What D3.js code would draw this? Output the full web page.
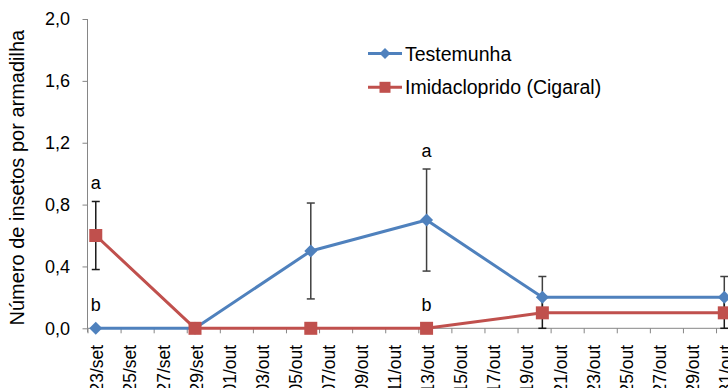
<!DOCTYPE html>
<html><head><meta charset="utf-8">
<script src="https://cdn.jsdelivr.net/npm/d3@7"></script>
<style>
html,body{margin:0;padding:0;background:#fff;}
svg{display:block;font-family:"Liberation Sans",Arial,sans-serif;}
</style></head>
<body><svg id="chart" width="728" height="388"></svg>
<script>
// ---- data ----
const sampleDates = ["23/set","29/set","06/out","13/out","20/out","31/out"];
const testemunha = [0, 0, 0.5, 0.7, 0.2, 0.2];
const testemunhaErr = [0, 0, 0.31, 0.33, 0.135, 0.135];
const imidacloprido = [0.6, 0, 0, 0, 0.1, 0.1];
const imidaclopridoErr = [0.22, 0, 0, 0, 0.1, 0.1];
const xTickLabels = ["23/set","25/set","27/set","29/set","01/out","03/out","05/out","07/out","09/out","11/out",
  "13/out","15/out","17/out","19/out","21/out","23/out","25/out","27/out","29/out","31/out"];
const yTicks = [0, 0.4, 0.8, 1.2, 1.6, 2.0];
const letterDates = ["23/set","23/set","13/out","13/out"];
const letterSeries = ["imid","test","test","imid"];
const letterText = ["a","b","a","b"];
const seriesNames = ["Testemunha","Imidacloprido (Cigaral)"];
const yTitle = "Número de insetos por armadilha";

// ---- helpers ----
const monthIdx = {set: 8, out: 9};
function parseDay(s){ const [d,m] = s.split("/"); return new Date(Date.UTC(2012, monthIdx[m], +d)); }
const HALF = 12*3600*1000;

const svg = d3.select("#chart");
const x0 = 87.5, yTop = 19, yBot = 328.3, dayW = 16.54;
const first = parseDay(xTickLabels[0]), last = parseDay(xTickLabels[xTickLabels.length-1]);
const x = d3.scaleUtc()
  .domain([new Date(+first - HALF), new Date(+last + HALF)])
  .range([x0, x0 + 39*dayW]);
const y = d3.scaleLinear().domain([0, 2]).range([yBot, yTop]);

const axisColor = "#868686";
const blue = "#4F81BD", red = "#C0504D";

// y axis
const yAxis = svg.append("g").attr("transform", `translate(${x0},0)`)
  .call(d3.axisLeft(y).tickValues(yTicks).tickSize(5).tickPadding(12.5)
    .tickFormat(d => d3.format(".1f")(d).replace(".", ",")));
yAxis.select(".domain").attr("stroke", axisColor).attr("d", `M0,${yTop}V${yBot}`);
yAxis.selectAll(".tick line").attr("stroke", axisColor);
yAxis.selectAll("text").attr("font-size", 18).attr("fill", "#000").attr("font-family", "Liberation Sans, Arial, sans-serif");

// x axis ticks (boundaries every 2 days)
const boundaries = xTickLabels.map(s => new Date(+parseDay(s) - HALF));
const xAxisT = svg.append("g").attr("transform", `translate(0,${yBot})`)
  .call(d3.axisBottom(x).tickValues(boundaries).tickSize(5).tickFormat(""));
xAxisT.select(".domain").attr("stroke", axisColor).attr("d", `M${x0},0H728`);
xAxisT.selectAll(".tick line").attr("stroke", axisColor);
svg.append("line").attr("x1", x0).attr("x2", x0).attr("y1", yBot).attr("y2", yBot+4).attr("stroke", axisColor);

// x axis labels
const xAxisL = svg.append("g").attr("transform", `translate(0,${yBot})`)
  .call(d3.axisBottom(x).tickValues(xTickLabels.map(parseDay)).tickSize(0)
    .tickFormat((d, i) => xTickLabels[i]));
xAxisL.select(".domain").remove();
xAxisL.selectAll("text")
  .attr("transform", "rotate(-90)")
  .attr("x", -16.5).attr("y", 1).attr("dy", "0.35em")
  .style("text-anchor", "end")
  .attr("font-size", 17.5).attr("fill", "#000").attr("font-family", "Liberation Sans, Arial, sans-serif");

// y title
svg.append("text")
  .attr("transform", `translate(24,${(yTop+yBot)/2+4}) rotate(-90)`)
  .attr("text-anchor", "middle").attr("font-size", 20).attr("fill", "#000")
  .text(yTitle);

// series
const series = [
  {key: "test", vals: testemunha, err: testemunhaErr, color: blue, marker: "diamond", errColor: "#404040"},
  {key: "imid", vals: imidacloprido, err: imidaclopridoErr, color: red, marker: "square", errColor: "#1a1a1a"}
];
const pts = s => sampleDates.map((d, i) => ({date: parseDay(d), v: s.vals[i], e: s.err[i]}));

// error bars
series.forEach(s => {
  const g = svg.append("g");
  pts(s).filter(p => p.e > 0).forEach(p => {
    const cx = x(p.date);
    const lo = Math.max(0, p.v - p.e), hi = p.v + p.e;
    g.append("line").attr("x1", cx).attr("x2", cx).attr("y1", y(hi)).attr("y2", y(lo))
      .attr("stroke", s.errColor).attr("stroke-width", 1.5);
    [hi, lo].forEach(v => g.append("line").attr("x1", cx-4).attr("x2", cx+4).attr("y1", y(v)).attr("y2", y(v))
      .attr("stroke", s.errColor).attr("stroke-width", 1.5));
  });
});

const line = d3.line().x(p => x(p.date)).y(p => y(p.v));
function drawMarker(g, type, cx, cy, color, size) {
  if (type === "square") {
    g.append("rect").attr("x", cx - size/2).attr("y", cy - size/2).attr("width", size).attr("height", size).attr("fill", color);
  } else {
    const h = size/2;
    g.append("path").attr("d", `M${cx},${cy-h}L${cx+h},${cy}L${cx},${cy+h}L${cx-h},${cy}Z`).attr("fill", color);
  }
}
series.forEach(s => {
  const g = svg.append("g");
  g.append("path").datum(pts(s)).attr("d", line).attr("fill", "none")
    .attr("stroke", s.color).attr("stroke-width", 3).attr("stroke-linejoin", "round");
  pts(s).forEach(p => drawMarker(g, s.marker, x(p.date), y(p.v), s.color, 13));
});

// significance letters
letterDates.forEach((d, i) => {
  const s = series.find(q => q.key === letterSeries[i]);
  const idx = sampleDates.indexOf(d);
  const v = s.vals[idx], e = s.err[idx];
  const by = e > 0 ? y(v + e) - 12 : y(v) - 17;
  svg.append("text").attr("x", x(parseDay(d))).attr("y", by).attr("text-anchor", "middle")
    .attr("font-size", 18).attr("fill", "#000").text(letterText[i]);
});

// legend
const legendY = [53.5, 87.3];
series.forEach((s, i) => {
  const g = svg.append("g");
  g.append("line").attr("x1", 368).attr("x2", 402).attr("y1", legendY[i]).attr("y2", legendY[i])
    .attr("stroke", s.color).attr("stroke-width", 3);
  drawMarker(g, s.marker, 385, legendY[i], s.color, 11);
  g.append("text").attr("x", 405).attr("y", legendY[i] + 7).attr("font-size", 19.5).attr("fill", "#000")
    .text(seriesNames[i]);
});
</script></body></html>
